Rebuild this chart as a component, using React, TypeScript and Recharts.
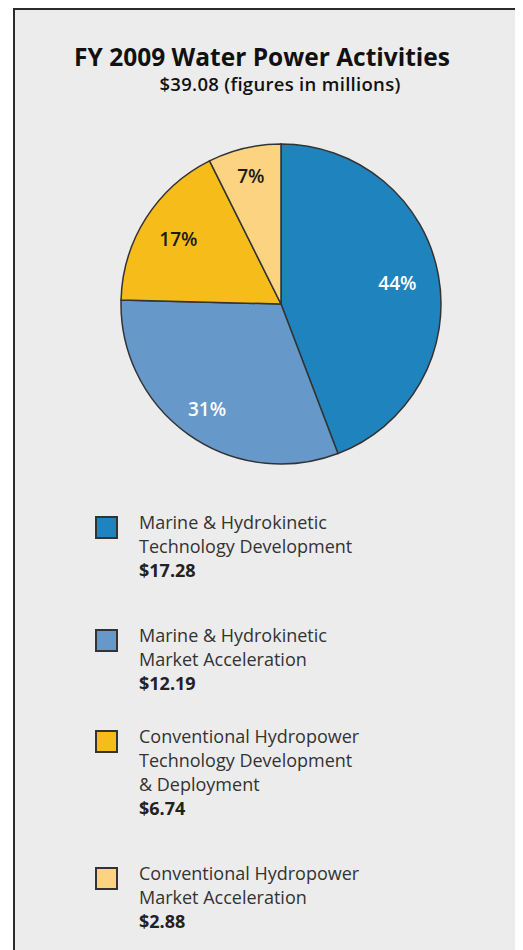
import React from 'react';
import { PieChart, Pie, Cell } from 'recharts';

const categories = [
  ['Marine & Hydrokinetic', 'Technology Development'],
  ['Marine & Hydrokinetic', 'Market Acceleration'],
  ['Conventional Hydropower', 'Technology Development', '& Deployment'],
  ['Conventional Hydropower', 'Market Acceleration'],
];
const amounts = [17.28, 12.19, 6.74, 2.88];
const percentLabels = ['44%', '31%', '17%', '7%'];
const sliceColors = ['#1f83bd', '#6698c9', '#f6bd1a', '#fcd380'];
const labelInk = ['#ffffff', '#ffffff', '#1a1a1a', '#1a1a1a'];

// layout tweaks: how far out each % label sits, and gap above each legend entry
const labelReach = [0.74, 0.8, 0.76, 0.82];
const legendGap = [0, 41, 29, 41];

const data = amounts.map((v, i) => ({ name: categories[i].join(' '), value: v }));

const FONT = '"Open Sans", Lato, sans-serif';
const RAD = Math.PI / 180;

const renderLabel = (props: any) => {
  const { cx, cy, midAngle, outerRadius, index } = props;
  const r = outerRadius * labelReach[index];
  const x = cx + r * Math.cos(-midAngle * RAD);
  const y = cy + r * Math.sin(-midAngle * RAD);
  return (
    <text
      x={x}
      y={y}
      fill={labelInk[index]}
      textAnchor="middle"
      dominantBaseline="central"
      fontFamily={FONT}
      fontWeight={600}
      fontSize={19}
    >
      {percentLabels[index]}
    </text>
  );
};

export default function App() {
  return (
    <div
      style={{
        position: 'relative',
        marginLeft: 5,
        width: 520,
        height: 942,
        background: '#ececec',
        borderLeft: '2px solid #2b2b2b',
        borderTop: '2px solid #2b2b2b',
        fontFamily: FONT,
        overflow: 'hidden',
      }}
    >
      <div
        style={{
          position: 'absolute',
          top: 32,
          left: 0,
          width: 494,
          textAlign: 'center',
          fontSize: 24.5,
          fontWeight: 700,
          color: '#111',
          lineHeight: '30px',
        }}
      >
        FY 2009 Water Power Activities
      </div>
      <div
        style={{
          position: 'absolute',
          top: 62,
          left: 0,
          width: 530,
          textAlign: 'center',
          fontSize: 18.5,
          fontWeight: 600,
          color: '#111',
          lineHeight: '24px',
          letterSpacing: 0.3,
        }}
      >
        $39.08 (figures in millions)
      </div>

      <div style={{ position: 'absolute', top: 123, left: 0 }}>
        <PieChart width={520} height={340}>
          <Pie
            data={data}
            dataKey="value"
            cx={261}
            cy={166}
            outerRadius={160}
            startAngle={90}
            endAngle={-270}
            label={renderLabel}
            labelLine={false}
            isAnimationActive={false}
          >
            {data.map((d, i) => (
              <Cell key={d.name} fill={sliceColors[i]} stroke="#333" strokeWidth={1.5} />
            ))}
          </Pie>
        </PieChart>
      </div>

      <div style={{ position: 'absolute', top: 500, left: 80 }}>
        {categories.map((lines, i) => (
          <div key={i} style={{ display: 'flex', alignItems: 'flex-start', marginTop: legendGap[i] }}>
            <div
              style={{
                width: 19,
                height: 19,
                marginTop: 6,
                background: sliceColors[i],
                border: '2px solid #333',
              }}
            />
            <div style={{ marginLeft: 21, fontSize: 18, lineHeight: '24px', color: '#333' }}>
              {lines.map((l) => (
                <div key={l}>{l}</div>
              ))}
              <div style={{ fontWeight: 700, color: '#222' }}>${amounts[i].toFixed(2)}</div>
            </div>
          </div>
        ))}
      </div>
    </div>
  );
}
